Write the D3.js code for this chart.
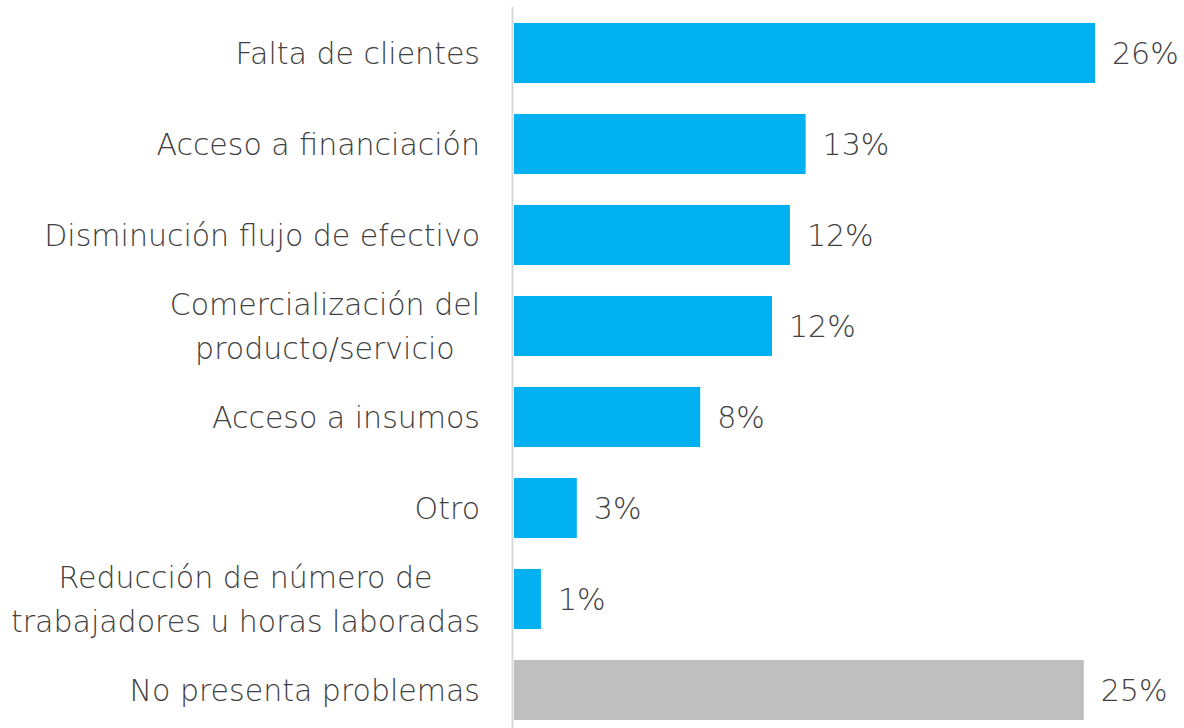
<!DOCTYPE html>
<html>
<head>
<meta charset="utf-8">
<script src="https://cdn.jsdelivr.net/npm/d3@7"></script>
<style>
  body { margin: 0; background: #fff; }
  text { font-family: "DejaVu Sans", sans-serif; font-weight: 200; fill: #404040; }
</style>
</head>
<body>
<script>
const categories = [
  ["Falta de clientes"],
  ["Acceso a financiación"],
  ["Disminución flujo de efectivo"],
  ["Comercialización del", "producto/servicio"],
  ["Acceso a insumos"],
  ["Otro"],
  ["Reducción de número de", "trabajadores u horas laboradas"],
  ["No presenta problemas"]
];
const values = [25.9, 13.0, 12.3, 11.5, 8.3, 2.8, 1.2, 25.4];
const labels = ["26%", "13%", "12%", "12%", "8%", "3%", "1%", "25%"];
const colors = ["#00b0f0", "#00b0f0", "#00b0f0", "#00b0f0", "#00b0f0", "#00b0f0", "#00b0f0", "#bfbfbf"];

const w = 1184;
const h = 728;
const x0 = 514;
const fontSize = 30;

const dataset = categories.map((c, i) => ({ lines: c, value: values[i], label: labels[i], color: colors[i], key: i }));

const svg = d3.select("body").append("svg").attr("width", w).attr("height", h);

const xScale = d3.scaleLinear().domain([0, 25.9]).range([x0, 1095]);

const yScale = d3
  .scaleBand()
  .domain(dataset.map((d) => d.key))
  .range([7.5, 735.5])
  .paddingInner(0.34)
  .paddingOuter(0.17);

// bars
svg
  .selectAll("rect.bar")
  .data(dataset)
  .enter()
  .append("rect")
  .attr("class", "bar")
  .attr("x", xScale(0))
  .attr("y", (d) => yScale(d.key))
  .attr("width", (d) => xScale(d.value) - xScale(0))
  .attr("height", yScale.bandwidth())
  .style("fill", (d) => d.color);

// vertical axis line
svg
  .append("line")
  .attr("x1", 512.5)
  .attr("x2", 512.5)
  .attr("y1", 7)
  .attr("y2", h)
  .style("stroke", "#d9d9d9")
  .style("stroke-width", 2);

// value labels
svg
  .selectAll("text.value")
  .data(dataset)
  .enter()
  .append("text")
  .attr("class", "value")
  .attr("x", (d) => xScale(d.value) + 17)
  .attr("y", (d) => yScale(d.key) + yScale.bandwidth() / 2)
  .attr("dy", "0.35em")
  .style("font-size", fontSize + "px")
  .text((d) => d.label);

// category labels, multi-line ones centred within a right-aligned block
const catG = svg
  .selectAll("g.cat")
  .data(dataset)
  .enter()
  .append("g")
  .attr("class", "cat");

catG.each(function (d) {
  const g = d3.select(this);
  const cy = yScale(d.key) + yScale.bandwidth() / 2;
  const lineH = 44;
  const n = d.lines.length;
  const texts = d.lines.map((line, i) =>
    g
      .append("text")
      .attr("y", cy + (i - (n - 1) / 2) * lineH)
      .attr("dy", "0.35em")
      .style("font-size", fontSize + "px")
      .attr("text-anchor", "middle")
      .text(line)
  );
  const maxW = d3.max(texts, (t) => t.node().getComputedTextLength());
  const cx = 480 - maxW / 2;
  texts.forEach((t) => t.attr("x", cx));
});
</script>
</body>
</html>
